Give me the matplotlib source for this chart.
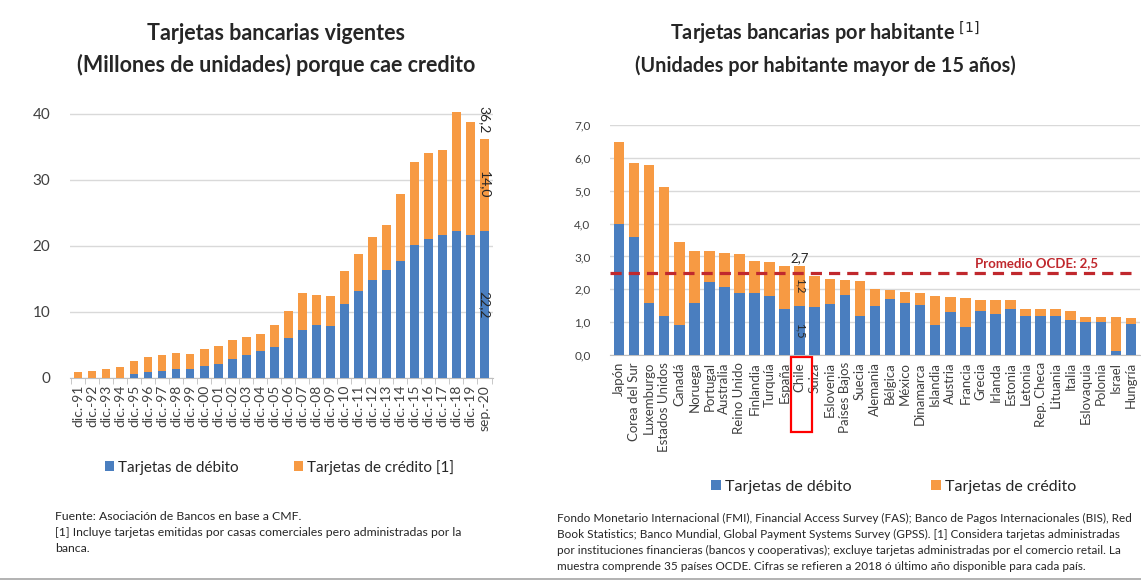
import numpy as np
import matplotlib
matplotlib.use("Agg")
import matplotlib.pyplot as plt
from matplotlib.patches import Rectangle
from matplotlib.lines import Line2D
from matplotlib.ticker import FuncFormatter

plt.rcParams['font.family'] = ['Lato', 'DejaVu Sans']

BLUE = '#4A7EBF'
ORANGE = '#F79A43'
GRID = '#D9D9D9'
TXT = '#262626'
TICK = '#404040'

# --- left chart: cards in force (millions)
periodos = ['dic.-91', 'dic.-92', 'dic.-93', 'dic.-94', 'dic.-95', 'dic.-96', 'dic.-97',
            'dic.-98', 'dic.-99', 'dic.-00', 'dic.-01', 'dic.-02', 'dic.-03', 'dic.-04',
            'dic.-05', 'dic.-06', 'dic.-07', 'dic.-08', 'dic.-09', 'dic.-10', 'dic.-11',
            'dic.-12', 'dic.-13', 'dic.-14', 'dic.-15', 'dic.-16', 'dic.-17', 'dic.-18',
            'dic.-19', 'sep.-20']
total_tarjetas = [0.9, 1.0, 1.3, 1.6, 2.5, 3.1, 3.4, 3.7, 3.6, 4.3, 4.8, 5.7, 6.2, 6.7,
                  8.0, 10.2, 12.8, 12.5, 12.4, 16.2, 18.8, 21.4, 23.1, 27.8, 32.7, 34.1,
                  34.5, 40.3, 38.7, 36.2]
debito = [0.0, 0.0, 0.0, 0.0, 0.6, 0.9, 1.0, 1.4, 1.3, 1.8, 2.1, 2.9, 3.5, 4.0,
          4.6, 6.1, 7.3, 8.0, 7.9, 11.2, 13.1, 14.8, 16.4, 17.7, 20.1, 21.0,
          21.6, 22.3, 21.6, 22.2]
credito = [round(t - d, 1) for t, d in zip(total_tarjetas, debito)]

# --- right chart: cards per inhabitant, OECD
paises = ['Japón', 'Corea del Sur', 'Luxemburgo', 'Estados Unidos', 'Canadá', 'Noruega',
          'Portugal', 'Australia', 'Reino Unido', 'Finlandia', 'Turquía', 'España', 'Chile',
          'Suiza', 'Eslovenia', 'Países Bajos', 'Suecia', 'Alemania', 'Bélgica', 'México',
          'Dinamarca', 'Islandia', 'Austria', 'Francia', 'Grecia', 'Irlanda', 'Estonia',
          'Letonia', 'Rep. Checa', 'Lituania', 'Italia', 'Eslovaquia', 'Polonia', 'Israel',
          'Hungría']
deb_hab = [3.98, 3.60, 1.57, 1.19, 0.93, 1.59, 2.21, 2.06, 1.90, 1.90, 1.81, 1.40, 1.5,
           1.45, 1.55, 1.82, 1.18, 1.49, 1.72, 1.57, 1.53, 0.90, 1.31, 0.86, 1.33, 1.24,
           1.40, 1.20, 1.19, 1.19, 1.06, 1.00, 1.00, 0.11, 0.94]
tot_hab = [6.49, 5.83, 5.78, 5.12, 3.43, 3.17, 3.16, 3.12, 3.07, 2.87, 2.84, 2.71, 2.7,
           2.41, 2.31, 2.28, 2.25, 2.00, 1.98, 1.92, 1.89, 1.79, 1.78, 1.75, 1.69, 1.69,
           1.68, 1.41, 1.40, 1.39, 1.35, 1.17, 1.17, 1.16, 1.13]
cred_hab = [round(t - d, 2) for t, d in zip(tot_hab, deb_hab)]
promedio_ocde = 2.5

fig = plt.figure(figsize=(11.41, 5.84), dpi=100)


def coma(v, fmt):
    return (fmt % v).replace('.', ',')


# ================= left
ax1 = fig.add_axes([0.061, 0.353, 0.371, 0.4747])
x1 = np.arange(len(periodos))
b1 = ax1.bar(x1, debito, 0.62, color=BLUE, zorder=3)
b2 = ax1.bar(x1, credito, 0.62, bottom=debito, color=ORANGE, zorder=3)
ax1.set_xlim(-0.6, len(periodos) - 0.4)
ax1.set_ylim(0, 42)
ax1.set_yticks([0, 10, 20, 30, 40])
ax1.yaxis.grid(True, color=GRID, lw=1)
ax1.set_axisbelow(True)
for s in ['top', 'right', 'left']:
    ax1.spines[s].set_visible(False)
ax1.spines['bottom'].set_color('#BFBFBF')
ax1.tick_params(axis='y', length=0, pad=14, labelsize=11, labelcolor=TICK)
ax1.set_xticks(x1)
ax1.set_xticklabels(periodos, rotation=90, fontsize=10, color=TICK)
ax1.tick_params(axis='x', which='major', length=0, pad=5)
ax1.set_xticks(np.arange(-0.5, len(periodos), 1), minor=True)
ax1.tick_params(axis='x', which='minor', length=4, color='#BFBFBF')

last = len(periodos) - 1
ax1.text(last, total_tarjetas[last] + 0.8, coma(total_tarjetas[last], '%.1f'), rotation=-90,
         ha='center', va='bottom', fontsize=10, color=TXT, clip_on=False)
ax1.text(last, debito[last] + credito[last] / 2, coma(credito[last], '%.1f'), rotation=-90,
         ha='center', va='center', fontsize=10, color=TXT)
ax1.text(last, debito[last] / 2, coma(debito[last], '%.1f'), rotation=-90,
         ha='center', va='center', fontsize=10, color=TXT)

fig.text(0.242, 0.942, 'Tarjetas bancarias vigentes', ha='center', va='center',
         fontsize=15.5, weight='bold', color=TXT)
fig.text(0.242, 0.888, '(Millones de unidades) porque cae credito', ha='center', va='center',
         fontsize=15.5, weight='bold', color=TXT)

fig.legend([b1, b2], ['Tarjetas de débito', 'Tarjetas de crédito [1]'],
           loc='center', bbox_to_anchor=(0.245, 0.2), ncol=2, frameon=False,
           fontsize=11, handlelength=0.6, handleheight=0.6, handletextpad=0.25,
           columnspacing=3.6, labelcolor=TXT)

fig.text(0.048, 0.115, 'Fuente: Asociación de Bancos en base a CMF.', fontsize=8.8,
         color=TXT, va='center')
fig.text(0.048, 0.088, '[1] Incluye tarjetas emitidas por casas comerciales pero '
         'administradas por la', fontsize=8.8, color=TXT, va='center')
fig.text(0.048, 0.061, 'banca.', fontsize=8.8, color=TXT, va='center')

# ================= right
ax2 = fig.add_axes([0.5346, 0.392, 0.4645, 0.394])
x2 = np.arange(len(paises))
c1 = ax2.bar(x2, deb_hab, 0.7, color=BLUE, zorder=3)
c2 = ax2.bar(x2, cred_hab, 0.7, bottom=deb_hab, color=ORANGE, zorder=3)
ax2.set_xlim(-0.6, len(paises) - 0.4)
ax2.set_ylim(0, 7)
ax2.set_yticks(np.arange(0, 7.01, 1))
ax2.yaxis.set_major_formatter(FuncFormatter(lambda v, p: coma(v, '%.1f')))
ax2.yaxis.grid(True, color=GRID, lw=1)
ax2.set_axisbelow(True)
for s in ['top', 'right', 'left']:
    ax2.spines[s].set_visible(False)
ax2.spines['bottom'].set_color('#BFBFBF')
ax2.tick_params(axis='y', length=0, pad=14, labelsize=8.5, labelcolor=TICK)
ax2.set_xticks(x2)
ax2.set_xticklabels(paises, rotation=90, fontsize=9.5, color=TICK)
ax2.tick_params(axis='x', length=0, pad=5)

ax2.axhline(promedio_ocde, xmin=0.0, xmax=0.995, color='#C0282D', lw=2.3,
            ls=(0, (3.5, 2.2)), zorder=4)
ax2.text(27.7, promedio_ocde + 0.12, 'Promedio OCDE: ' + coma(promedio_ocde, '%.1f'),
         ha='center', va='bottom', fontsize=9.5, color='#C0282D', weight='bold')

ic = paises.index('Chile')
ax2.text(ic, tot_hab[ic] + 0.08, coma(tot_hab[ic], '%.1f'), ha='center', va='bottom',
         fontsize=9.5, color=TXT)
ax2.text(ic, deb_hab[ic] + cred_hab[ic] / 2, coma(cred_hab[ic], '%.1f'), rotation=-90,
         ha='center', va='center', fontsize=8, color=TXT, zorder=5)
ax2.text(ic, deb_hab[ic] / 2, coma(deb_hab[ic], '%.1f'), rotation=-90,
         ha='center', va='center', fontsize=8, color=TXT, zorder=5)
ax2.add_patch(Rectangle((ic - 0.6, -0.335), 1.4, 0.326,
                        transform=ax2.get_xaxis_transform(), fill=False,
                        ec='#FF0000', lw=1.6, clip_on=False))

fig.text(0.723, 0.942, 'Tarjetas bancarias por habitante $^{[1]}$', ha='center',
         va='center', fontsize=14.3, weight='bold', color=TXT)
fig.text(0.723, 0.888, '(Unidades por habitante mayor de 15 años)', ha='center',
         va='center', fontsize=14.3, weight='bold', color=TXT)

fig.legend([c1, c2], ['Tarjetas de débito', 'Tarjetas de crédito'],
           loc='center', bbox_to_anchor=(0.783, 0.166), ncol=2, frameon=False,
           fontsize=11.5, handlelength=0.6, handleheight=0.6, handletextpad=0.25,
           columnspacing=5.0, labelcolor=TXT)

nota = ['Fondo Monetario Internacional (FMI), Financial Access Survey (FAS); Banco de Pagos '
        'Internacionales (BIS), Red',
        'Book Statistics; Banco Mundial, Global Payment Systems Survey (GPSS). [1] Considera '
        'tarjetas administradas',
        'por instituciones financieras (bancos y cooperativas); excluye tarjetas administradas '
        'por el comercio retail. La',
        'muestra comprende 35 países OCDE. Cifras se refieren a 2018 ó último año disponible '
        'para cada país.']
for k, linea in enumerate(nota):
    fig.text(0.488, 0.113 - k * 0.0274, linea, fontsize=8.5, color=TXT, va='center')

fig.add_artist(Line2D([0, 1], [0.008, 0.008], color='#A6A6A6', lw=1.2))

fig.savefig('out.png', dpi=100)
